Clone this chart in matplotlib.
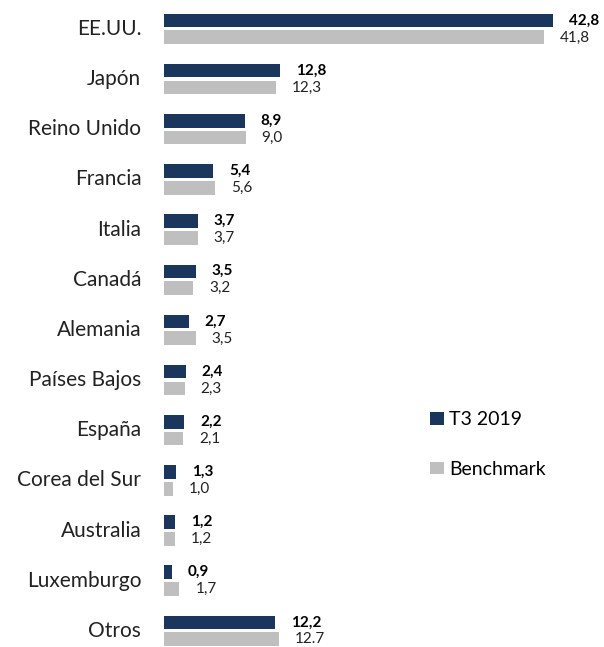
import matplotlib.pyplot as plt
import numpy as np

# Datos
paises = ['EE.UU.', 'Japón', 'Reino Unido', 'Francia', 'Italia', 'Canadá',
          'Alemania', 'Países Bajos', 'España', 'Corea del Sur', 'Australia',
          'Luxemburgo', 'Otros']
t3_2019 = [42.8, 12.8, 8.9, 5.4, 3.7, 3.5, 2.7, 2.4, 2.2, 1.3, 1.2, 0.9, 12.2]
benchmark = [41.8, 12.3, 9.0, 5.6, 3.7, 3.2, 3.5, 2.3, 2.1, 1.0, 1.2, 1.7, 12.7]
etiquetas_t3 = ['42,8', '12,8', '8,9', '5,4', '3,7', '3,5', '2,7', '2,4',
                '2,2', '1,3', '1,2', '0,9', '12,2']
etiquetas_bm = ['41,8', '12,3', '9,0', '5,6', '3,7', '3,2', '3,5', '2,3',
                '2,1', '1,0', '1,2', '1,7', '12.7']

azul = '#1b365d'
gris = '#bfbfbf'
fuente = 'Lato'

fig = plt.figure(figsize=(6.04, 6.47), dpi=100)
ax = fig.add_axes([164 / 604, 0, 436 / 604, 1])

y = np.arange(len(paises))
alto = 0.27
ax.barh(y - 0.17, t3_2019, height=alto, color=azul, label='T3 2019')
ax.barh(y + 0.165, benchmark, height=alto, color=gris, label='Benchmark')

desp = 1.75
for i in range(len(paises)):
    ax.text(t3_2019[i] + desp, y[i] - 0.17, etiquetas_t3[i], ha='left',
            va='center', fontsize=11, fontweight='bold', color='black',
            family=fuente)
    ax.text(benchmark[i] + desp, y[i] + 0.17, etiquetas_bm[i], ha='left',
            va='center', fontsize=11, color='#222222', family=fuente)
    ax.text(-2.5, y[i], paises[i], ha='right', va='center', fontsize=15,
            color='#222222', family=fuente)

ax.set_xlim(0, 48)
ax.set_ylim(12.32, -0.578)
ax.axis('off')

leg = ax.legend(loc='center left', bbox_to_anchor=(0.57, 0.313), frameon=False,
                handlelength=0.7, handleheight=0.6,
                handletextpad=0.3, labelspacing=1.65,
                prop={'family': fuente, 'size': 14})

plt.savefig('out.png', dpi=100, facecolor='white')
plt.close()
